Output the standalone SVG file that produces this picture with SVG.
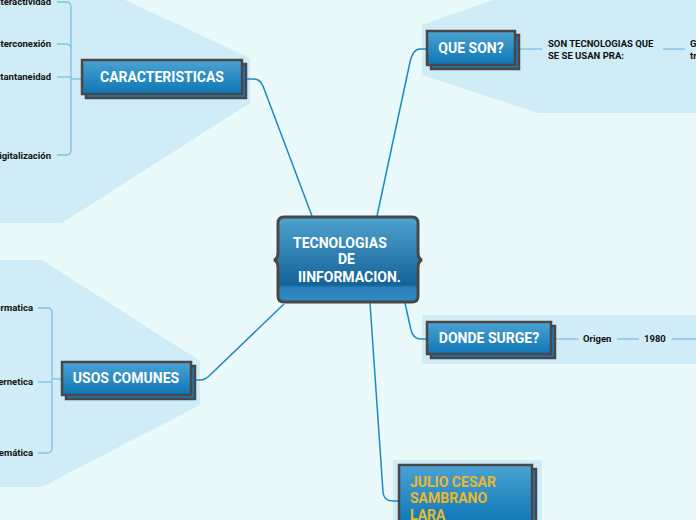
<svg xmlns="http://www.w3.org/2000/svg" width="696" height="520" viewBox="0 0 696 520">
<defs>
<linearGradient id="nodeGrad" x1="0" y1="0" x2="0" y2="1">
<stop offset="0" stop-color="#4ba3d2"/>
<stop offset="1" stop-color="#0e76b5"/>
</linearGradient>
<linearGradient id="centerGrad" x1="0" y1="0" x2="0" y2="1">
<stop offset="0" stop-color="#4fa3cf"/>
<stop offset="0.8" stop-color="#146398"/>
<stop offset="0.83" stop-color="#2a80b8"/>
<stop offset="1" stop-color="#308dc4"/>
</linearGradient>
</defs>
<style>
.zone{fill:#cfecf7}
.box{fill:url(#nodeGrad);stroke:#4b4648;stroke-width:2.5}
.shadow{fill:#1a7ab6;stroke:#4b4648;stroke-width:2.5}
.main{fill:none;stroke:#1a8ac6;stroke-width:1.5}
.sub{fill:none;stroke:#7cc3e3;stroke-width:1.3}
.title{font-family:Roboto,"Liberation Sans",sans-serif;font-weight:700;font-size:14px;fill:#ffffff}
.gold{font-family:Roboto,"Liberation Sans",sans-serif;font-weight:700;font-size:14px;fill:#e9b82e}
.lbl{font-family:Roboto,"Liberation Sans",sans-serif;font-weight:700;font-size:9.5px;fill:#111111}
</style>
<rect width="696" height="520" fill="#eafafb"/>
<!-- zones -->
<polygon class="zone" points="0,0 125,0 250,58 250,103 62,223 0,223"/>
<polygon class="zone" points="0,260 42,260 200,361 200,405 42,487 0,487"/>
<polygon class="zone" points="422,25 493,0 696,0 696,113 538,113 422,75"/>
<rect class="zone" x="422" y="315" width="274" height="49"/>
<rect class="zone" x="393" y="460" width="149" height="60"/>
<g id="connectors">
<path class="main" d="M246,79 H254 Q260,79 263,86 L312,216"/>
<path class="main" d="M377,216 L410,62 Q413,49 420,49 H427"/>
<path class="main" d="M196,380 H200 Q205,380 209,376 L284,304"/>
<path class="main" d="M405,303 L411,330 Q413,339 421,339 H427"/>
<path class="main" d="M370,303 L383,492 Q384,501 392,501 H399"/>
<!-- caracteristicas bracket -->
<path class="sub" d="M82,79 H71"/>
<path class="sub" d="M57,2 H66 Q71,2 71,7 V150 Q71,155 66,155 H57"/>
<path class="sub" d="M57,44 H66 Q71,44 71,49"/>
<path class="sub" d="M57,77 H71"/>
<!-- usos bracket -->
<path class="sub" d="M62,379 H52"/>
<path class="sub" d="M38,308 H47 Q52,308 52,313 V448 Q52,453 47,453 H38"/>
<path class="sub" d="M38,382 H52"/>
<!-- que son -->
<path class="sub" d="M520,49 H542"/>
<path class="sub" d="M663,49 H685"/>
<!-- donde surge -->
<path class="sub" d="M555,339 H578"/>
<path class="sub" d="M617,339 H639"/>
<path class="sub" d="M672,339 H696"/>
</g>
<g id="center">
<path d="M284,217 H412 Q418,217 418,223 V252 Q418,259 422,260 Q418,261 418,268 V296 Q418,302 412,302 H284 Q278,302 278,296 V268 Q278,261 274,260 Q278,259 278,252 V223 Q278,217 284,217 Z" fill="url(#centerGrad)" stroke="#4b4648" stroke-width="3"/>
<text class="title"><tspan x="293" y="248">TECNOLOGIAS</tspan><tspan x="338" y="264">DE</tspan><tspan x="298" y="282">IINFORMACION.</tspan></text>
</g>
<g id="caracteristicas">
<rect class="shadow" x="86" y="64" width="160" height="34"/>
<rect class="box" x="82" y="60" width="160" height="34"/>
<text class="title" x="162" y="82" text-anchor="middle">CARACTERISTICAS</text>
</g>
<g id="car-items">
<text class="lbl" x="51" y="5" text-anchor="end">Interactividad</text>
<text class="lbl" x="51" y="47" text-anchor="end">Interconexión</text>
<text class="lbl" x="51" y="80" text-anchor="end">Instantaneidad</text>
<text class="lbl" x="51" y="159" text-anchor="end">Digitalización</text>
</g>
<g id="usos">
<rect class="shadow" x="66" y="366" width="129" height="33"/>
<rect class="box" x="62" y="362" width="129" height="33"/>
<text class="title" x="126" y="383" text-anchor="middle">USOS COMUNES</text>
</g>
<g id="usos-items">
<text class="lbl" x="33" y="311" text-anchor="end">Informatica</text>
<text class="lbl" x="33" y="385" text-anchor="end">Cibernetica</text>
<text class="lbl" x="33" y="456" text-anchor="end">Telemática</text>
</g>
<g id="queson">
<rect class="shadow" x="431" y="35" width="88" height="34"/>
<rect class="box" x="427" y="31" width="88" height="34"/>
<text class="title" x="471" y="53" text-anchor="middle">QUE SON?</text>
</g>
<g id="queson-items">
<text class="lbl"><tspan x="548" y="47">SON TECNOLOGIAS QUE</tspan><tspan x="548" y="59">SE SE USAN PRA:</tspan></text>
<text class="lbl"><tspan x="690" y="47">G</tspan><tspan x="690" y="59">tr</tspan></text>
</g>
<g id="donde">
<rect class="shadow" x="431" y="326" width="124" height="32"/>
<rect class="box" x="427" y="322" width="124" height="32"/>
<text class="title" x="489" y="343" text-anchor="middle">DONDE SURGE?</text>
</g>
<g id="donde-items">
<text class="lbl" x="583" y="342">Origen</text>
<text class="lbl" x="644" y="342">1980</text>
</g>
<g id="julio">
<rect class="shadow" x="403" y="469" width="133" height="60"/>
<rect class="box" x="399" y="465" width="133" height="60"/>
<text class="gold"><tspan x="410" y="487">JULIO CESAR</tspan><tspan x="410" y="503">SAMBRANO</tspan><tspan x="410" y="520">LARA</tspan></text>
</g>
</svg>
